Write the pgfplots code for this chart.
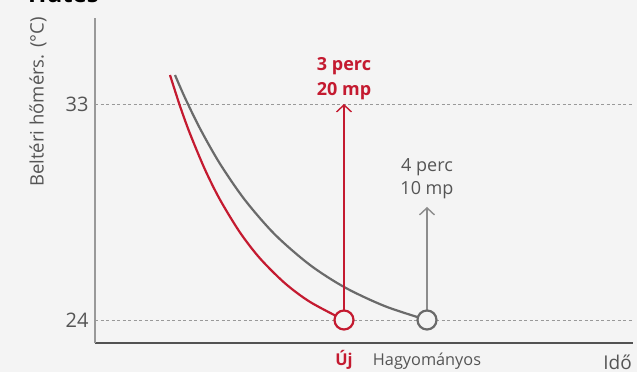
\documentclass[border=0pt]{standalone}
\usepackage{pgfplots}
\pgfplotsset{compat=1.18}
\usepackage{fontspec}
\setmainfont{Open Sans}
\usetikzlibrary{arrows.meta}
\definecolor{bg}{HTML}{F4F4F4}
\definecolor{lgred}{HTML}{C41A30}
\definecolor{curvegray}{HTML}{6A6A6A}
\definecolor{arrowgray}{HTML}{8C8C8C}
\definecolor{txtgray}{HTML}{555555}
\begin{document}
\begin{tikzpicture}[x=1pt,y=1pt]
\fill[bg] (0,0) rectangle (637,372);
\node[anchor=base west, inner sep=0pt, font=\fontsize{24}{28}\selectfont\bfseries] at (28,369) {Hűtés};
\node[rotate=90, inner sep=0pt, text=txtgray, font=\fontsize{18.5}{22}\selectfont] at (38,270) {Beltéri hőmérs. (°C)};
\begin{axis}[
  at={(95pt,29pt)}, anchor=south west,
  x=1pt, y=24pt,
  xmin=0, xmax=538, ymin=23.0417, ymax=36.5833,
  axis x line*=bottom, axis y line*=left,
  x axis line style={-, draw=black!68, line width=1.4pt},
  y axis line style={-, draw=black!40, line width=1.8pt},
  major tick length=0pt,
  ytick={24,33},
  /pgf/number format/assume math mode=true,
  yticklabel style={font=\fontsize{20}{24}\selectfont, text=txtgray, xshift=-3pt},
  ymajorgrids,
  grid style={dash pattern=on 3pt off 2.5pt, draw=black!40, line width=0.7pt},
  xtick={249,332},
  xticklabels={{\bfseries\color{lgred}Új},Hagyományos},
  xticklabel style={font=\fontsize{16.3}{19}\selectfont, text=txtgray, anchor=base, yshift=-22pt},
  clip=false,
]
\addplot[curvegray, line width=2.2pt, smooth] coordinates {
 (80,34.208) (90,33.258) (105,31.979) (125,30.508) (150,28.996) (180,27.558) (215,26.292) (250,25.354) (290,24.575) (332,24)};
\addplot[lgred, line width=2.2pt, smooth] coordinates {
 (75,34.208) (85,32.913) (95,31.763) (110,30.267) (125,29.013) (145,27.646) (165,26.567) (190,25.529) (215,24.754) (249,24)};
\draw[arrowgray, line width=1.4pt, -{Straight Barb[length=7pt,width=15pt,line width=1.4pt]}] (axis cs:332,24.3) -- (axis cs:332,28.71);
\draw[lgred, line width=1.4pt, -{Straight Barb[length=7pt,width=15pt,line width=1.4pt]}] (axis cs:249,24.3) -- (axis cs:249,33);
\addplot[only marks, mark=*, mark size=9.5pt, mark options={draw=curvegray, fill=bg, line width=2.2pt}] coordinates {(332,24)};
\addplot[only marks, mark=*, mark size=9.5pt, mark options={draw=lgred, fill=bg, line width=2.2pt}] coordinates {(249,24)};
\node[align=center, text=lgred, font=\fontsize{18}{25}\selectfont\bfseries] at (axis cs:249,34.06) {3 perc\\20 mp};
\node[align=center, text=txtgray, font=\fontsize{18}{23}\selectfont] at (axis cs:332,29.88) {4 perc\\10 mp};
\node[anchor=base east, inner sep=0pt, text=txtgray, font=\fontsize{19}{22}\selectfont] at (axis cs:537,23.0417) [yshift=-26pt] {Idő};
\end{axis}
\pgfresetboundingbox
\path[use as bounding box] (0,0) rectangle (637,372);
\end{tikzpicture}
\end{document}
